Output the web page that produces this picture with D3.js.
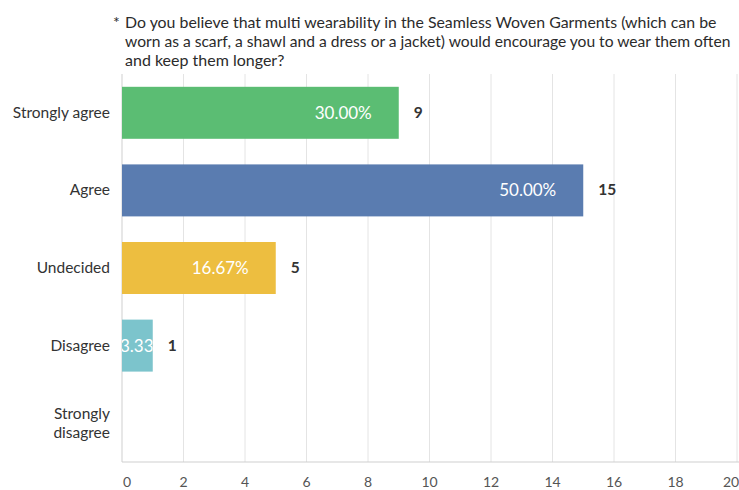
<!DOCTYPE html>
<html>
<head>
<meta charset="utf-8">
<script src="https://cdn.jsdelivr.net/npm/d3@7"></script>
<style>
  html, body { margin: 0; padding: 0; background: #fff; }
  svg { display: block; }
</style>
</head>
<body>
<svg id="chart" width="739" height="490"></svg>
<script>
// Survey responses
const categories = ["Strongly agree", "Agree", "Undecided", "Disagree", "Strongly disagree"];
const counts = [9, 15, 5, 1, 0];
const barColors = ["#5bbd73", "#5a7cb0", "#edbe40", "#7cc4cc", "#c9c9c9"];
const xTicks = [0, 2, 4, 6, 8, 10, 12, 14, 16, 18, 20];
const titleLines = [
  "Do you believe that multi wearability in the Seamless Woven Garments (which can be",
  "worn as a scarf, a shawl and a dress or a jacket) would encourage you to wear them often",
  "and keep them longer?"
];

const total = d3.sum(counts);
const pct = d3.format(".2f");

const svg = d3.select("#chart");
const W = 739, H = 490;
const margin = { left: 122, right: 2, top: 74, bottom: 28 };

const x = d3.scaleLinear().domain([0, 20]).range([margin.left, 737]);
const y = d3.scaleBand().domain(categories)
  .range([margin.top, H - margin.bottom])
  .paddingInner(0.33).paddingOuter(0.165);

// Title: each line is sized so it fits its available width
const title = svg.append("g").attr("font-family", "Lato, 'Open Sans', sans-serif")
  .attr("font-size", 16).attr("fill", "#2b2b2b");
title.append("text").attr("x", 113).attr("y", 28).text("*");
const titleWidths = [592, 606, 161];
titleLines.forEach((t, i) => {
  const el = title.append("text")
    .attr("x", 125).attr("y", 28 + i * 19)
    .text(t);
  const natural = el.node().getComputedTextLength();
  if (natural > titleWidths[i]) {
    el.attr("font-size", 16 * titleWidths[i] / natural);
  }
});

// Vertical gridlines
svg.append("g").selectAll("line").data(xTicks.slice(1)).join("line")
  .attr("x1", d => x(d)).attr("x2", d => x(d))
  .attr("y1", margin.top).attr("y2", H - margin.bottom)
  .attr("stroke", "#e4e4e4").attr("stroke-width", 1);

// Axes lines
svg.append("line")
  .attr("x1", x(0)).attr("x2", x(0))
  .attr("y1", margin.top).attr("y2", H - margin.bottom)
  .attr("stroke", "#cfcfcf");
svg.append("line")
  .attr("x1", x(0)).attr("x2", W)
  .attr("y1", H - margin.bottom).attr("y2", H - margin.bottom)
  .attr("stroke", "#cfcfcf");

// X tick labels
svg.append("g").selectAll("text").data(xTicks).join("text")
  .attr("x", (d, i) => i === 0 ? x(d) + 5 : (i === xTicks.length - 1 ? x(d) - 6 : x(d)))
  .attr("y", 487)
  .attr("text-anchor", "middle")
  .attr("font-family", "Lato, sans-serif").attr("font-size", 14)
  .attr("fill", "#555")
  .text(d => d);

// Category labels
const catG = svg.append("g").attr("font-family", "Lato, sans-serif")
  .attr("font-size", 15.5).attr("fill", "#333").attr("text-anchor", "end");
categories.forEach(c => {
  const cy = y(c) + y.bandwidth() / 2;
  const words = c === "Strongly disagree" ? ["Strongly", "disagree"] : [c];
  words.forEach((w, i) => {
    catG.append("text")
      .attr("x", 110)
      .attr("y", cy + 5 + (i - (words.length - 1) / 2) * 19)
      .text(w);
  });
});

// Bars
const defs = svg.append("defs");
const bars = svg.append("g");
categories.forEach((c, i) => {
  const v = counts[i];
  if (v <= 0) return;
  const x0 = x(0), x1 = x(v);
  const by = y(c), bh = y.bandwidth();
  bars.append("rect")
    .attr("x", x0).attr("y", by)
    .attr("width", x1 - x0).attr("height", bh)
    .attr("fill", barColors[i]);

  const clipId = "clip" + i;
  defs.append("clipPath").attr("id", clipId)
    .append("rect").attr("x", x0).attr("y", by).attr("width", x1 - x0).attr("height", bh);

  const label = pct(v / total * 100) + "%";
  const wide = (x1 - x0) > 80;
  bars.append("text")
    .attr("clip-path", `url(#${clipId})`)
    .attr("x", wide ? x1 - 27 : x0 - 2)
    .attr("y", by + bh / 2 + 6)
    .attr("text-anchor", wide ? "end" : "start")
    .attr("font-family", "Lato, sans-serif").attr("font-size", 17)
    .attr("fill", "#fff")
    .text(label);

  bars.append("text")
    .attr("x", x1 + 15)
    .attr("y", by + bh / 2 + 5)
    .attr("font-family", "Lato, sans-serif").attr("font-size", 15.5)
    .attr("font-weight", "bold").attr("fill", "#333")
    .text(v);
});
</script>
</body>
</html>
